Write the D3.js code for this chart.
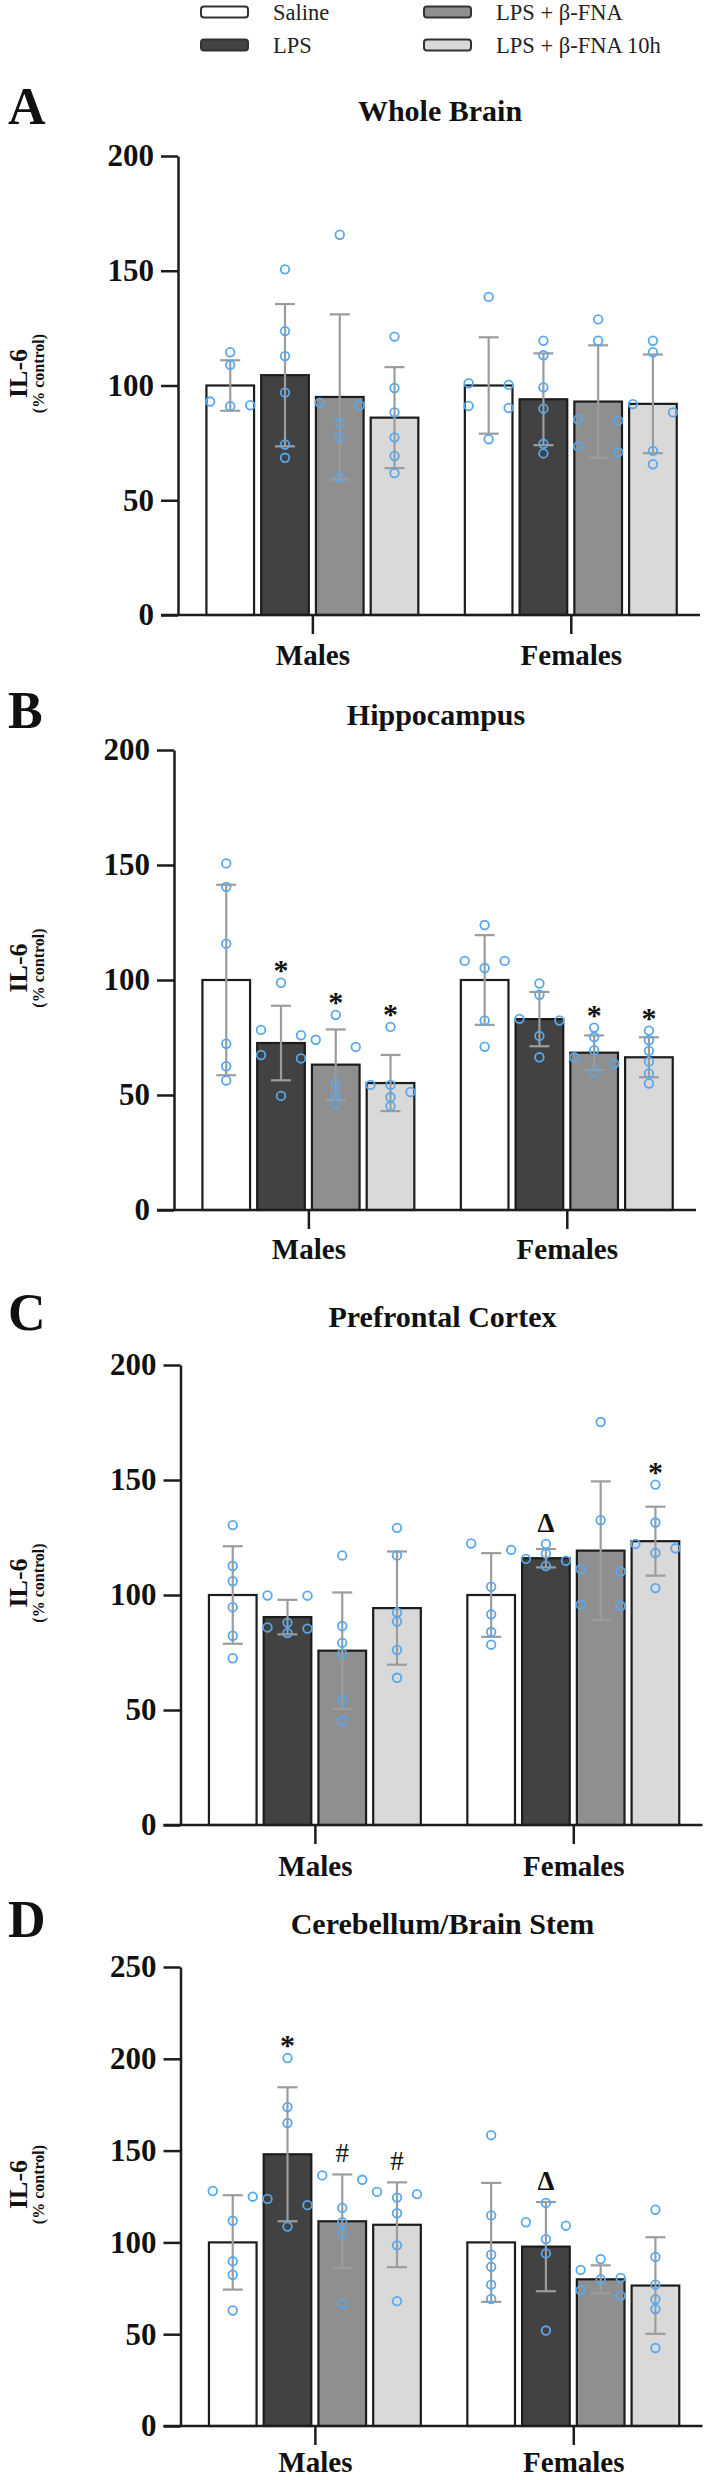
<!DOCTYPE html>
<html>
<head>
<meta charset="utf-8">
<script src="https://cdn.jsdelivr.net/npm/d3@7"></script>
<style>
  body { margin: 0; background: #fff; }
  svg text { font-family: "Liberation Serif", "Times New Roman", serif; }
</style>
</head>
<body>
<svg id="chart" width="708" height="2480"></svg>
<script>
// categories
var groups = ["Males", "Females"];
var treatments = ["Saline", "LPS", "LPS + β-FNA", "LPS + β-FNA 10h"];
var panelLetters = ["A", "B", "C", "D"];
var panelTitles = ["Whole Brain", "Hippocampus", "Prefrontal Cortex", "Cerebellum/Brain Stem"];
var yMaxes = [200, 200, 200, 250];
var yTicks = [
  [0, 50, 100, 150, 200],
  [0, 50, 100, 150, 200],
  [0, 50, 100, 150, 200],
  [0, 50, 100, 150, 200, 250]
];

// Whole brain  [group][treatment]
var wholeBrainMeans = [[100, 104.5, 95, 86], [100, 94, 93, 92]];
var wholeBrainSD = [[11, 31, 36, 22], [21, 20, 24.5, 21.5]];
var wholeBrainPoints = [
  [[114.5, 109, 93, 91.4, 91], [150.6, 123.7, 112.8, 96.9, 74.3, 68.5],
   [165.7, 92.5, 91.4, 83.6, 77.4, 59.8], [121.3, 98.9, 88.3, 77.4, 69.3, 61.8]],
  [[138.6, 101, 100.3, 91.1, 90.2, 76.6], [119.5, 113.2, 99.2, 89.9, 74.6, 70.4],
   [128.8, 119.5, 85.2, 84.7, 73.5, 70.9], [119.5, 114.5, 91.9, 88.3, 71.5, 65.7]]
];
var wholeBrainMarks = [];

// Hippocampus
var hippocampusMeans = [[100, 72.6, 63.2, 55.2], [100, 83, 68.4, 66.4]];
var hippocampusSD = [[41.4, 16.2, 15.3, 12.2], [19.5, 11.8, 7.5, 8.7]];
var hippocampusPoints = [
  [[150.7, 140.5, 115.8, 72.3, 62.5, 56.3], [98.8, 78.3, 76, 67.4, 65.9, 49.6],
   [84.8, 74, 70.9, 55.3, 50.3, 46.2], [79.6, 54.4, 54.4, 51.3, 49, 45.1]],
  [[123.9, 108.3, 108.3, 105.2, 82.4, 71], [98.5, 93.6, 83.1, 82.4, 75.7, 66.4],
   [79.3, 75.2, 69.5, 66.4, 63.6, 60.1], [78, 73.8, 69.2, 64.5, 59.4, 55]]
];
var hippocampusMarks = [[0, 1, "*"], [0, 2, "*"], [0, 3, "*"], [1, 2, "*"], [1, 3, "*"]];

// Prefrontal cortex
var prefrontalMeans = [[100, 90.4, 75.8, 94.3], [100, 116, 119.3, 123.4]];
var prefrontalSD = [[21.2, 7.5, 25.3, 24.6], [18.2, 4, 30.1, 15]];
var prefrontalPoints = [
  [[130.4, 112.6, 106, 94.7, 82.3, 72.5], [99.8, 99.7, 88, 85.9, 85.4, 83.5],
   [117.2, 86.5, 79.2, 74.5, 54.3, 45.3], [129.2, 117.2, 92.4, 88.5, 76.1, 64]],
  [[122.4, 119.6, 103.6, 91.6, 83.9, 78.4], [122.2, 118, 115.7, 114.9, 112.6],
   [175.2, 132.5, 111.3, 110.2, 95.8, 95.2], [148, 131.5, 122.2, 120.3, 118.3, 103]]
];
var prefrontalMarks = [[1, 1, "Δ"], [1, 3, "*"]];

// Cerebellum / brain stem
var cerebellumMeans = [[100, 148, 111.5, 109.6], [100, 97.7, 79.9, 76.5]];
var cerebellumSD = [[25.7, 36.5, 25.5, 23.1], [32.4, 24.3, 7.6, 26.3]];
var cerebellumPoints = [
  [[128, 124.9, 111.8, 89.7, 82.4, 62.9], [200.4, 173.7, 165, 123.7, 120.3, 108.6],
   [136.5, 134.1, 118.8, 111, 105, 66.8], [127.5, 126.3, 124.4, 115.9, 98.4, 68]],
  [[158.4, 114.7, 93.3, 86.7, 77, 69.2], [121.5, 111, 109.1, 101.8, 94, 52],
   [90.9, 85, 80.7, 79.9, 73.9, 70.9], [117.8, 92.1, 77, 69, 63.7, 42.5]]
];
var cerebellumMarks = [[0, 1, "*"], [0, 2, "#"], [0, 3, "#"], [1, 1, "Δ"]];

var fills = ["#ffffff", "#424242", "#8f8f8f", "#d9d9d9"];
var dotColor = "#58a8ee";
var errColor = "#9c9c9c";
var ink = "#1c1c1c";

// page layout of each panel (pixels)
var boxes = [
  {axisX: 178, title: 121, top: 156, bottom: 615, cat: 665},
  {axisX: 174, title: 725, top: 750, bottom: 1210, cat: 1259},
  {axisX: 180.5, title: 1327, top: 1365, bottom: 1825, cat: 1876},
  {axisX: 180.5, title: 1934, top: 1967, bottom: 2426, cat: 2472}
];

var panels = [
  {means: wholeBrainMeans, sd: wholeBrainSD, points: wholeBrainPoints, marks: wholeBrainMarks},
  {means: hippocampusMeans, sd: hippocampusSD, points: hippocampusPoints, marks: hippocampusMarks},
  {means: prefrontalMeans, sd: prefrontalSD, points: prefrontalPoints, marks: prefrontalMarks},
  {means: cerebellumMeans, sd: cerebellumSD, points: cerebellumPoints, marks: cerebellumMarks}
];

var svg = d3.select("#chart");

// legend
var legend = svg.append("g");
var legendCols = [201, 424];
treatments.forEach(function(t, i) {
  var col = Math.floor(i / 2), row = i % 2;
  var g = legend.append("g").attr("transform", "translate(" + legendCols[col] + "," + (12 + row * 33) + ")");
  g.append("rect").attr("x", 0).attr("y", -5.5).attr("width", 47).attr("height", 11)
    .attr("rx", 3).attr("fill", fills[i]).attr("stroke", "#333").attr("stroke-width", 2);
  g.append("text").attr("x", 72).attr("y", 8).attr("font-size", 22.5).attr("fill", "#222").text(t);
});

// groups points into rows of near-equal values, then spreads each row sideways
function spread(vals, y, thr) {
  var sorted = vals.slice().sort(function(a, b) { return b - a; });
  var rows = [], cur = [sorted[0]];
  for (var i = 1; i < sorted.length; i++) {
    if (y(sorted[i]) - y(sorted[i - 1]) < thr) cur.push(sorted[i]);
    else { rows.push(cur); cur = [sorted[i]]; }
  }
  rows.push(cur);
  var out = [];
  rows.forEach(function(r) {
    var pat = r.length == 1 ? [0] : r.length == 2 ? [-1, 1] : r.length == 3 ? [-1, 1, 0] : null;
    r.forEach(function(v, k) {
      out.push({v: v, col: pat ? pat[k] : [0, -1, 1][k % 3]});
    });
  });
  return out;
}

panels.forEach(function(p, pi) {
  var b = boxes[pi];
  var g = svg.append("g");

  var y = d3.scaleLinear().domain([0, yMaxes[pi]]).range([b.bottom, b.top]);
  var x0 = d3.scaleBand().domain(groups).range([b.axisX, b.axisX + 522])
    .paddingInner(0.18).paddingOuter(0.1).align(0.55);
  var x1 = d3.scaleBand().domain(treatments).range([0, x0.bandwidth()]).paddingInner(0.13);

  // letter + title
  g.append("text").attr("x", 8).attr("y", b.title + 3).attr("font-size", 52)
    .attr("font-weight", "bold").attr("fill", "#111").text(panelLetters[pi]);
  g.append("text").attr("x", b.axisX + 262).attr("y", b.title).attr("text-anchor", "middle")
    .attr("font-size", 30).attr("font-weight", "bold").attr("fill", "#111").text(panelTitles[pi]);

  // y label
  var mid = (b.top + b.bottom) / 2 - 12;
  g.append("text").attr("transform", "translate(27," + mid + ") rotate(-90)")
    .attr("text-anchor", "middle").attr("font-size", 26).attr("font-weight", "bold")
    .attr("fill", "#111").text("IL-6");
  g.append("text").attr("transform", "translate(44," + mid + ") rotate(-90)")
    .attr("text-anchor", "middle").attr("font-size", 16).attr("font-weight", "bold")
    .attr("fill", "#111").text("(% control)");

  // bars
  groups.forEach(function(grp, gi) {
    var gx = x0(grp);
    treatments.forEach(function(t, ti) {
      var m = p.means[gi][ti];
      g.append("rect")
        .attr("x", gx + x1(t)).attr("y", y(m))
        .attr("width", x1.bandwidth()).attr("height", y(0) - y(m))
        .attr("fill", fills[ti]).attr("stroke", ink).attr("stroke-width", 2.2);
    });
  });

  // error bars
  groups.forEach(function(grp, gi) {
    treatments.forEach(function(t, ti) {
      var cx = x0(grp) + x1(t) + x1.bandwidth() / 2;
      var m = p.means[gi][ti], s = p.sd[gi][ti];
      var eg = g.append("g").attr("stroke", errColor).attr("stroke-width", 2.2);
      eg.append("line").attr("x1", cx).attr("x2", cx).attr("y1", y(m + s)).attr("y2", y(m - s));
      [m + s, m - s].forEach(function(v) {
        eg.append("line").attr("x1", cx - 10).attr("x2", cx + 10).attr("y1", y(v)).attr("y2", y(v));
      });
    });
  });

  // points
  groups.forEach(function(grp, gi) {
    treatments.forEach(function(t, ti) {
      var cx = x0(grp) + x1(t) + x1.bandwidth() / 2;
      g.append("g").selectAll("circle")
        .data(spread(p.points[gi][ti], y, 8.5))
        .join("circle")
        .attr("cx", function(d) { return cx + d.col * 20; })
        .attr("cy", function(d) { return y(d.v); })
        .attr("r", 4.3).attr("fill", "none")
        .attr("stroke", dotColor).attr("stroke-width", 1.8);
    });
  });

  // significance marks
  p.marks.forEach(function(mk) {
    var gi = mk[0], ti = mk[1], sym = mk[2];
    var cx = x0(groups[gi]) + x1(treatments[ti]) + x1.bandwidth() / 2;
    var top = Math.max(p.means[gi][ti] + p.sd[gi][ti], d3.max(p.points[gi][ti]));
    g.append("text").attr("x", cx).attr("y", y(top) - (sym == "*" ? 3 : 12))
      .attr("text-anchor", "middle")
      .attr("font-size", sym == "*" ? 30 : 27)
      .attr("font-weight", sym == "#" ? "normal" : "bold")
      .attr("fill", "#111").text(sym);
  });

  // axes
  var yAxis = d3.axisLeft(y).tickValues(yTicks[pi]).tickSize(17).tickSizeOuter(0).tickPadding(7);
  var ya = g.append("g").attr("transform", "translate(" + b.axisX + ",0)").call(yAxis);
  ya.select(".domain").attr("stroke", ink).attr("stroke-width", 2.5);
  ya.selectAll(".tick line").attr("stroke", ink).attr("stroke-width", 2.5);
  ya.selectAll(".tick text").attr("font-size", 31).attr("font-weight", "bold").attr("fill", "#111")
    .attr("font-family", "Liberation Serif, serif");

  var labPad = b.cat - b.bottom - 19 - 0.71 * 29;
  var xAxis = d3.axisBottom(d3.scalePoint().domain(groups)
      .range([x0("Males") + x0.bandwidth() / 2, x0("Females") + x0.bandwidth() / 2]))
    .tickSize(19).tickSizeOuter(0).tickPadding(labPad);
  var xa = g.append("g").attr("transform", "translate(0," + b.bottom + ")").call(xAxis);
  xa.select(".domain").remove();
  xa.selectAll(".tick line").attr("stroke", ink).attr("stroke-width", 2.5);
  xa.selectAll(".tick text").attr("font-size", 29).attr("font-weight", "bold").attr("fill", "#111")
    .attr("font-family", "Liberation Serif, serif");
  xa.append("line").attr("x1", b.axisX - 17).attr("x2", b.axisX + 522)
    .attr("y1", 0).attr("y2", 0).attr("stroke", ink).attr("stroke-width", 2.5);
});
</script>
</body>
</html>
